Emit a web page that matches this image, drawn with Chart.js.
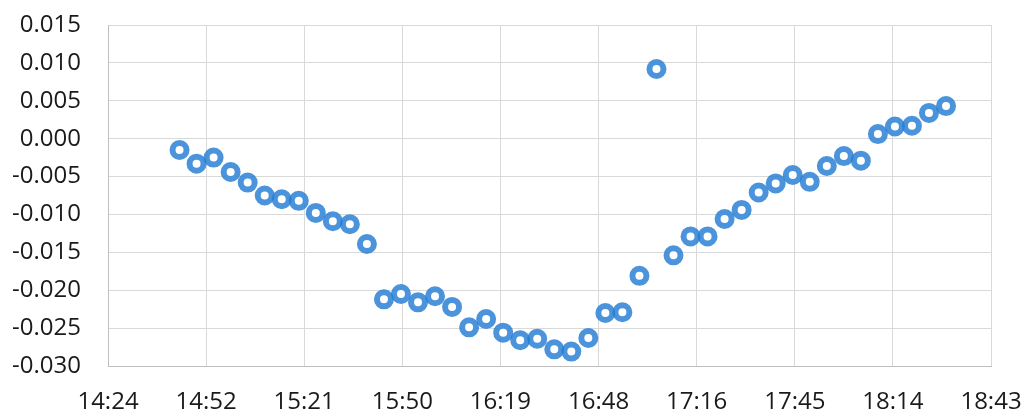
<!DOCTYPE html>
<html>
<head>
<meta charset="utf-8">
<script src="https://cdn.jsdelivr.net/npm/chart.js@4"></script>
<style>
  html, body { margin: 0; padding: 0; background: #fff; }
  #wrap { width: 1024px; height: 418px; }
</style>
</head>
<body>
<div id="wrap"><canvas id="chart1" width="1024" height="418"></canvas></div>
<script>
// sample times (hh:mm)
const times = [
  '14:45', '14:50', '14:55', '15:00', '15:05', '15:10', '15:15', '15:20', '15:25', '15:30',
  '15:35', '15:40', '15:45', '15:50', '15:55', '16:00', '16:05', '16:10', '16:15', '16:20',
  '16:25', '16:30', '16:35', '16:40', '16:45', '16:50', '16:55', '17:00', '17:05', '17:10',
  '17:15', '17:20', '17:25', '17:30', '17:35', '17:40', '17:45', '17:50', '17:55', '18:00',
  '18:05', '18:10', '18:15', '18:20', '18:25', '18:30'
];

const values = [
  -0.0015, -0.0033, -0.0025, -0.0044, -0.0058, -0.0075, -0.0080, -0.0082, -0.0098, -0.0109,
  -0.0113, -0.0139, -0.0212, -0.0205, -0.0216, -0.0208, -0.0222, -0.0249, -0.0238, -0.0256,
  -0.0266, -0.0264, -0.0278, -0.0281, -0.0263, -0.0230, -0.0229, -0.0181, 0.0092, -0.0154,
  -0.0129, -0.0129, -0.0106, -0.0094, -0.0071, -0.0059, -0.0048, -0.0057, -0.0036, -0.0023,
  -0.0029, 0.0006, 0.0016, 0.0017, 0.0034, 0.0043
];

// axis range, in fractions of a day (excel style) and plain values
const xMin = 0.60, xMax = 0.78, xStep = 0.02;
const yMin = -0.030, yMax = 0.015, yStep = 0.005;

function toDay(t) {
  const p = t.split(':');
  return (parseInt(p[0]) * 60 + parseInt(p[1])) / 1440;
}

function fmtTime(v) {
  const mins = Math.floor(v * 1440 + 1e-6);
  const h = Math.floor(mins / 60);
  const m = mins % 60;
  return h + ':' + (m < 10 ? '0' + m : m);
}

const points = times.map((t, i) => ({ x: toDay(t), y: values[i] }));

const gridColor = '#d9d9d9';
const tickFont = { family: '"Open Sans", sans-serif', size: 24 };

const config = {
  type: 'scatter',
  data: {
    datasets: [{
      data: points,
      pointRadius: 7,
      pointHoverRadius: 7,
      pointBorderWidth: 6,
      borderColor: 'rgba(35, 125, 212, 0.82)',
      backgroundColor: '#ffffff'
    }]
  },
  options: {
    responsive: false,
    animation: false,
    layout: { padding: { top: 25, right: 33, left: 0, bottom: 0 } },
    plugins: { legend: { display: false }, tooltip: { enabled: false } },
    scales: {
      x: {
        type: 'linear',
        min: xMin,
        max: xMax,
        afterFit: function (s) {
          s.height = 52;
          s.paddingLeft = 0;
          s.paddingRight = 0;
        },
        ticks: {
          stepSize: xStep,
          color: '#1a1a1a',
          font: tickFont,
          padding: 22,
          maxRotation: 0,
          autoSkip: false,
          callback: function (v) { return fmtTime(v); }
        },
        grid: { color: gridColor, drawTicks: false },
        border: { color: '#bfbfbf' }
      },
      y: {
        min: yMin,
        max: yMax,
        afterFit: function (s) {
          s.width = 108;
          s.paddingTop = 0;
          s.paddingBottom = 0;
        },
        ticks: {
          stepSize: yStep,
          color: '#1a1a1a',
          font: tickFont,
          padding: 27,
          callback: function (v) { return v.toFixed(3); }
        },
        grid: { color: gridColor, drawTicks: false },
        border: { color: '#bfbfbf' }
      }
    }
  }
};

const myChart = new Chart(document.getElementById('chart1'), config);
</script>
</body>
</html>
